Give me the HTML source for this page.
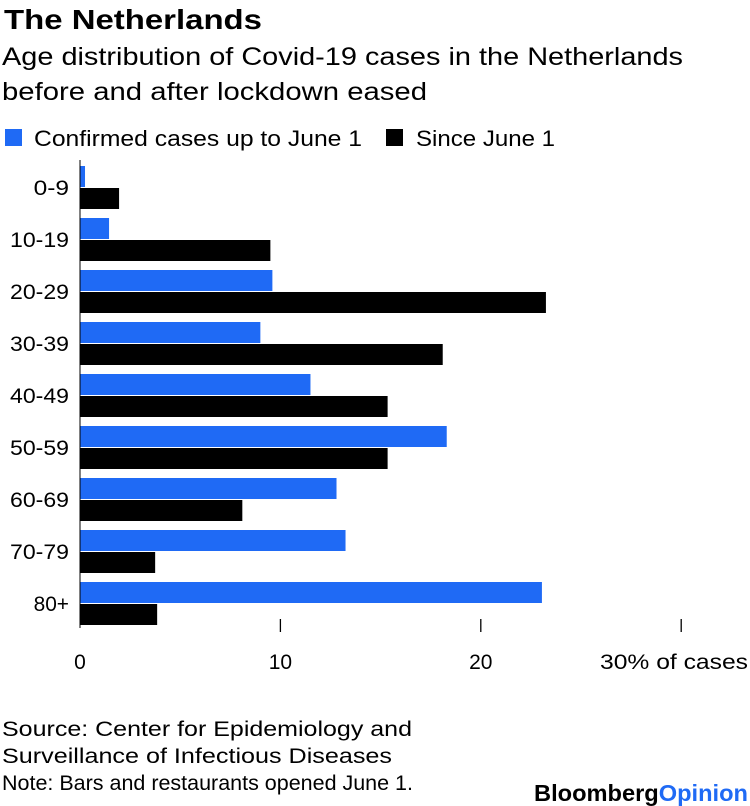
<!DOCTYPE html>
<html><head><meta charset="utf-8">
<style>
body{margin:0;background:#fff;font-family:"Liberation Sans",Arial,sans-serif;color:#000;}
svg{display:block}
</style></head>
<body>
<svg id="chart" width="750" height="806" xmlns="http://www.w3.org/2000/svg" font-family="Liberation Sans, Arial, sans-serif">
<text x="4" y="29" font-size="28" font-weight="bold" textLength="258" lengthAdjust="spacingAndGlyphs">The Netherlands</text>
<text x="2" y="65" font-size="25" textLength="681" lengthAdjust="spacingAndGlyphs">Age distribution of Covid-19 cases in the Netherlands</text>
<text x="2" y="100" font-size="25" textLength="425" lengthAdjust="spacingAndGlyphs">before and after lockdown eased</text>
<rect x="5" y="129" width="17" height="17" fill="#1f6af5"/>
<text x="34" y="146" font-size="22" textLength="328" lengthAdjust="spacingAndGlyphs">Confirmed cases up to June 1</text>
<rect x="386" y="129" width="17" height="17" fill="#000"/>
<text x="416" y="146" font-size="22" textLength="139" lengthAdjust="spacingAndGlyphs">Since June 1</text>
<g id="plot"></g>
<text x="2" y="736" font-size="21" textLength="410" lengthAdjust="spacingAndGlyphs">Source: Center for Epidemiology and</text>
<text x="2" y="763" font-size="21" textLength="390" lengthAdjust="spacingAndGlyphs">Surveillance of Infectious Diseases</text>
<text x="2" y="790" font-size="21" textLength="411" lengthAdjust="spacingAndGlyphs">Note: Bars and restaurants opened June 1.</text>
<text x="534" y="801" font-size="23" font-weight="bold" textLength="214" lengthAdjust="spacingAndGlyphs">Bloomberg<tspan fill="#1f6af5">Opinion</tspan></text>
</svg>
<script>
const categories = ["0-9","10-19","20-29","30-39","40-49","50-59","60-69","70-79","80+"];
const beforeValues = [0.25,1.45,9.6,9.0,11.5,18.3,12.8,13.25,23.05];
const sinceValues = [1.95,9.5,23.25,18.1,15.35,15.35,8.1,3.75,3.85];
const tickValues = [0,10,20,30];
const tickLabels = ["0","10","20","30% of cases"];

const NS = "http://www.w3.org/2000/svg";
const plot = document.getElementById("plot");
const x0 = 80, pxPerUnit = 20.04;
const xScale = v => x0 + v * pxPerUnit;
const rowTop = i => 166 + 52 * i;
function mk(tag, attrs){const e=document.createElementNS(NS,tag);for(const k in attrs)e.setAttribute(k,attrs[k]);plot.appendChild(e);return e;}

categories.forEach((c,i)=>{
  const b = mk("rect",{x:x0,y:rowTop(i),width:xScale(beforeValues[i])-x0,height:21,fill:"#1f6af5"});
  
  
  const s = mk("rect",{x:x0,y:rowTop(i)+22,width:xScale(sinceValues[i])-x0,height:21,fill:"#000"});
  
  
  const t = mk("text",{x:69,y:rowTop(i)+29,"font-size":21,"text-anchor":"end",textLength:c.length*11.8,lengthAdjust:"spacingAndGlyphs"});
  t.textContent = c;
  
  
});
const axis = mk("line",{x1:x0,x2:x0,y1:160,y2:628,stroke:"#000","stroke-width":1});


tickValues.forEach((v,i)=>{
  if(v>0){
    const l = mk("line",{x1:xScale(v),x2:xScale(v),y1:619,y2:632,stroke:"#000","stroke-width":1.3});
    
    
  }
  const t = mk("text",{x:xScale(v),y:669,"font-size":21,"text-anchor":"middle"});
  t.textContent = tickLabels[i];
  if(i===tickValues.length-1){t.setAttribute("x",600);t.setAttribute("text-anchor","start");t.setAttribute("textLength",148);t.setAttribute("lengthAdjust","spacingAndGlyphs");}
  
  
});
</script>
</body></html>
